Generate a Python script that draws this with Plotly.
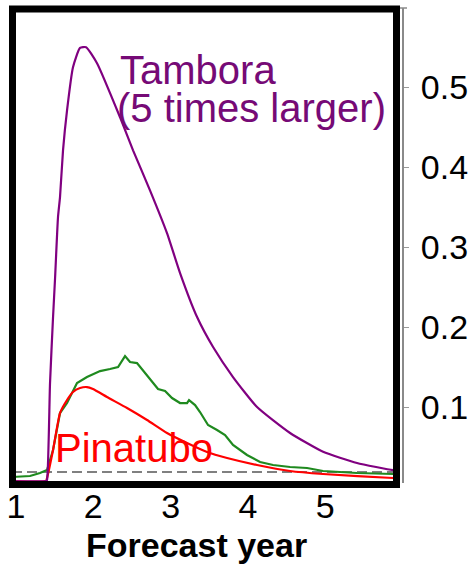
import plotly.graph_objects as go

# ---------------- data ----------------
tambora_year = [0.948, 1.388, 1.401, 1.440, 1.479, 1.505, 1.543, 1.569, 1.608, 1.660, 1.737,
                1.828, 1.906, 2.048, 2.345, 2.514, 2.733, 2.953, 3.122, 3.342, 3.549, 3.807,
                4.118, 4.545, 4.972, 5.411, 5.877, 5.929]
tambora_val = [0.0075, 0.0075, 0.0088, 0.130, 0.2125, 0.261, 0.3375, 0.3625, 0.421, 0.471, 0.525,
               0.549, 0.550, 0.530, 0.4625, 0.421, 0.371, 0.3175, 0.2675, 0.2125, 0.175, 0.1375,
               0.100, 0.0675, 0.044, 0.030, 0.021, 0.0205]

green_year = [0.948, 1.181, 1.310, 1.401, 1.479, 1.569, 1.660, 1.789, 1.918, 2.087, 2.216, 2.320,
              2.410, 2.475, 2.565, 2.695, 2.772, 2.837, 2.928, 3.018, 3.122, 3.212, 3.238, 3.316,
              3.380, 3.484, 3.600, 3.704, 3.807, 3.988, 4.157, 4.325, 4.545, 4.765, 4.972, 5.411,
              5.877, 5.929]
green_val = [0.0125, 0.01375, 0.0175, 0.02125, 0.04625, 0.0925, 0.105, 0.130, 0.1375, 0.145, 0.1475,
             0.150, 0.16375, 0.15625, 0.155, 0.140, 0.130, 0.1225, 0.120, 0.11125, 0.105, 0.105,
             0.10875, 0.1025, 0.09375, 0.0775, 0.07125, 0.065, 0.0525, 0.040, 0.03125, 0.0275,
             0.025, 0.02375, 0.020, 0.0175, 0.01625, 0.01625]

pinatubo_year = [0.948, 1.388, 1.401, 1.479, 1.569, 1.660, 1.737, 1.828, 1.918, 1.996, 2.177,
                 2.436, 2.695, 2.953, 3.212, 3.471, 3.730, 4.118, 4.545, 4.972, 5.877, 5.929]
pinatubo_val = [0.0075, 0.0075, 0.01125, 0.04625, 0.0925, 0.10875, 0.11875, 0.12375, 0.125, 0.1225,
                0.1125, 0.09875, 0.08375, 0.0675, 0.055, 0.04375, 0.03625, 0.0275, 0.020, 0.01625,
                0.01125, 0.01125]

baseline_level = 0.01875

x_ticks = [1, 2, 3, 4, 5]
y_ticks = [0.1, 0.2, 0.3, 0.4, 0.5]
y_tick_text = ["0.1", "0.2", "0.3", "0.4", "0.5"]

X_RANGE = [0.948, 5.993]
Y_RANGE = [0.005, 0.599]

FONT = "Liberation Sans, Arial, sans-serif"
PURPLE = "#800080"
GREEN = "#1f8a1f"
RED = "#ff0000"

fig = go.Figure()

fig.add_trace(go.Scatter(x=X_RANGE, y=[baseline_level, baseline_level], mode="lines",
                         line=dict(color="#808080", width=2, dash="10px,5px"),
                         hoverinfo="skip", showlegend=False))
fig.add_trace(go.Scatter(x=green_year, y=green_val, mode="lines",
                         line=dict(color=GREEN, width=2.2), showlegend=False))
fig.add_trace(go.Scatter(x=pinatubo_year, y=pinatubo_val, mode="lines",
                         line=dict(color=RED, width=2.2, shape="spline", smoothing=0.5),
                         showlegend=False))
fig.add_trace(go.Scatter(x=tambora_year, y=tambora_val, mode="lines",
                         line=dict(color=PURPLE, width=2.2, shape="spline", smoothing=0.5),
                         showlegend=False))

# plot area in pixels: x 12..402, y 8..483
L, R, T, B = 12, 66, 8, 81
W, H = 468, 564
pw, ph = W - L - R, H - T - B


def px_x(x):
    return (x - L) / pw


def px_y(y):
    return (H - B - y) / ph


fig.add_shape(type="rect", xref="paper", yref="paper",
              x0=px_x(12.5), x1=px_x(396.5), y0=px_y(484.5), y1=px_y(9),
              line=dict(color="black", width=7), fillcolor="rgba(0,0,0,0)", layer="above")
# small gray cap at the top of the right-hand axis
fig.add_shape(type="line", xref="paper", yref="paper",
              x0=px_x(400), x1=px_x(407), y0=px_y(8), y1=px_y(8),
              line=dict(color="#8a8a8a", width=1.5), layer="above")

fig.add_annotation(text="Tambora", xref="paper", yref="paper", x=px_x(118), y=px_y(70),
                   xanchor="left", yanchor="middle", showarrow=False,
                   font=dict(family=FONT, size=40, color="#760a76"))
fig.add_annotation(text="(5 times larger)", xref="paper", yref="paper", x=px_x(115), y=px_y(108),
                   xanchor="left", yanchor="middle", showarrow=False,
                   font=dict(family=FONT, size=40, color="#760a76"))
fig.add_annotation(text="Pinatubo", xref="paper", yref="paper", x=px_x(53), y=px_y(448),
                   xanchor="left", yanchor="middle", showarrow=False,
                   font=dict(family=FONT, size=40, color=RED))
fig.add_annotation(text="<b>Forecast year</b>", xref="paper", yref="paper", x=px_x(196), y=px_y(545),
                   xanchor="center", yanchor="middle", showarrow=False,
                   font=dict(family=FONT, size=34, color="black"))

fig.update_xaxes(range=X_RANGE, tickvals=x_ticks, ticktext=[str(v) for v in x_ticks],
                 showgrid=False, zeroline=False, showline=False, ticks="",
                 tickfont=dict(family=FONT, size=34, color="black"), automargin=False)
fig.update_yaxes(range=Y_RANGE, tickvals=y_ticks, ticktext=y_tick_text, side="right",
                 showgrid=False, zeroline=False, showline=True, linecolor="#8a8a8a", linewidth=2,
                 ticks="outside", ticklen=5, tickcolor="#999999", tickwidth=1,
                 ticklabelstandoff=5,
                 tickfont=dict(family=FONT, size=34, color="black"), automargin=False)

fig.update_layout(width=W, height=H, margin=dict(l=L, r=R, t=T, b=B),
                  paper_bgcolor="white", plot_bgcolor="white", showlegend=False)

fig.write_html("out.html", config={"displayModeBar": False},
               post_script="document.body.style.margin='0';document.body.style.padding='0';")
